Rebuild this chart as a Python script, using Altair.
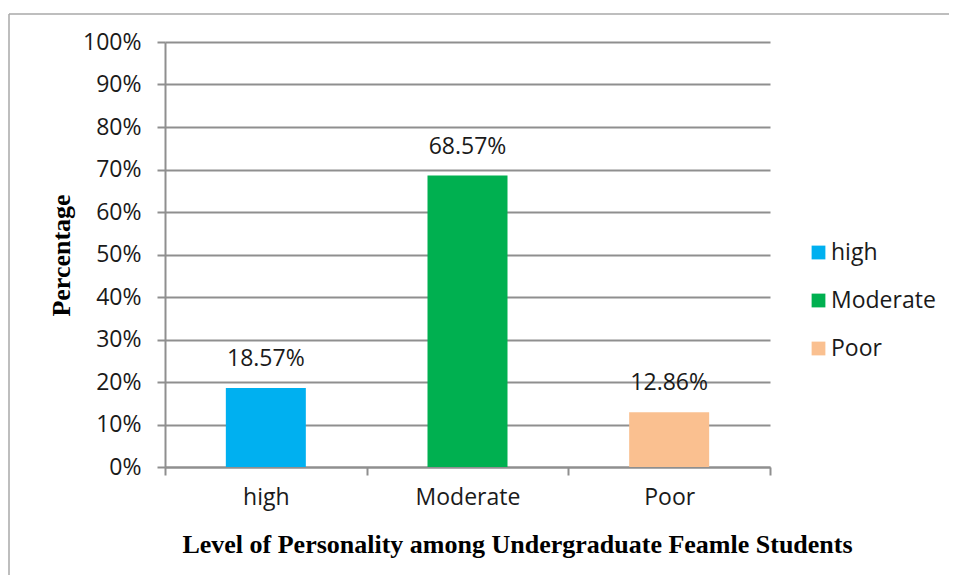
import altair as alt
import pandas as pd

categories = ["high", "Moderate", "Poor"]
values = [0.1857, 0.6857, 0.1286]
colors = ["#00B0F0", "#00B050", "#FAC090"]

df = pd.DataFrame({"level": categories, "pct": values})

W, H = 605, 425
PL, PT = 157, 34
PR = 941 - (PL + W)
PB = 567 - (PT + H)

sans = "Open Sans"
serif = "Liberation Serif"
gray = "#8f8f8f"
txt = "#1a1a1a"

base = alt.Chart(df)
one = alt.Chart(pd.DataFrame({"a": [0]}))

border_top = one.mark_rule(stroke="#a9a9a9", strokeWidth=1.5, clip=False).encode(
    x=alt.value(-156), x2=alt.value(W + 400), y=alt.value(-28))
border_left = one.mark_rule(stroke="#a9a9a9", strokeWidth=1.5, clip=False).encode(
    x=alt.value(-156), y=alt.value(-28), y2=alt.value(H + 400))

bars = base.mark_bar(size=80).encode(
    x=alt.X("level:N", sort=categories,
            scale=alt.Scale(paddingInner=0, paddingOuter=0),
            axis=alt.Axis(title="Level of Personality among Undergraduate Feamle Students",
                          labelAngle=0, tickBand="extent", tickSize=8, tickColor=gray,
                          tickWidth=2, domainColor=gray, domainWidth=2,
                          labelFont=sans, labelFontSize=23, labelColor=txt,
                          labelPadding=11, titleFont=serif, titleFontSize=26,
                          titleFontWeight="bold", titleColor="#000000",
                          titleX=352, titleY=77, titleBaseline="middle", grid=False)),
    y=alt.Y("pct:Q", scale=alt.Scale(domain=[0, 1]),
            axis=alt.Axis(title="Percentage", format=".0%", values=[i / 10 for i in range(11)],
                          tickSize=8, tickColor=gray, tickWidth=2, domainColor=gray,
                          domainWidth=2, gridColor=gray, gridWidth=2,
                          labelFont=sans, labelFontSize=23, labelColor=txt,
                          labelPadding=16, titleFont=serif, titleFontSize=26,
                          titleFontWeight="bold", titleColor="#000000",
                          titleAngle=-90, titleX=-104, titleY=213,
                          titleBaseline="middle", titleAlign="center")),
    color=alt.Color("level:N", sort=categories,
                    scale=alt.Scale(domain=categories, range=colors),
                    legend=alt.Legend(title=None, orient="none", legendX=642, legendY=199,
                                      symbolType="square", symbolSize=190,
                                      symbolStrokeWidth=0, labelFont=sans,
                                      labelFontSize=23, labelColor=txt,
                                      rowPadding=24, labelOffset=1)),
)

labels = base.mark_text(font=sans, fontSize=23, color=txt, dy=-29,
                        baseline="middle").encode(
    x=alt.X("level:N", sort=categories),
    y="pct:Q",
    text=alt.Text("pct:Q", format=".2%"),
)

chart = alt.layer(border_top, border_left, bars, labels).properties(
    width=W, height=H,
    autosize=alt.AutoSizeParams(type="none"),
    padding={"left": PL, "top": PT, "right": PR, "bottom": PB},
).configure_view(stroke=None)

chart.save("out.html", embed_options={"renderer": "svg", "actions": False})
